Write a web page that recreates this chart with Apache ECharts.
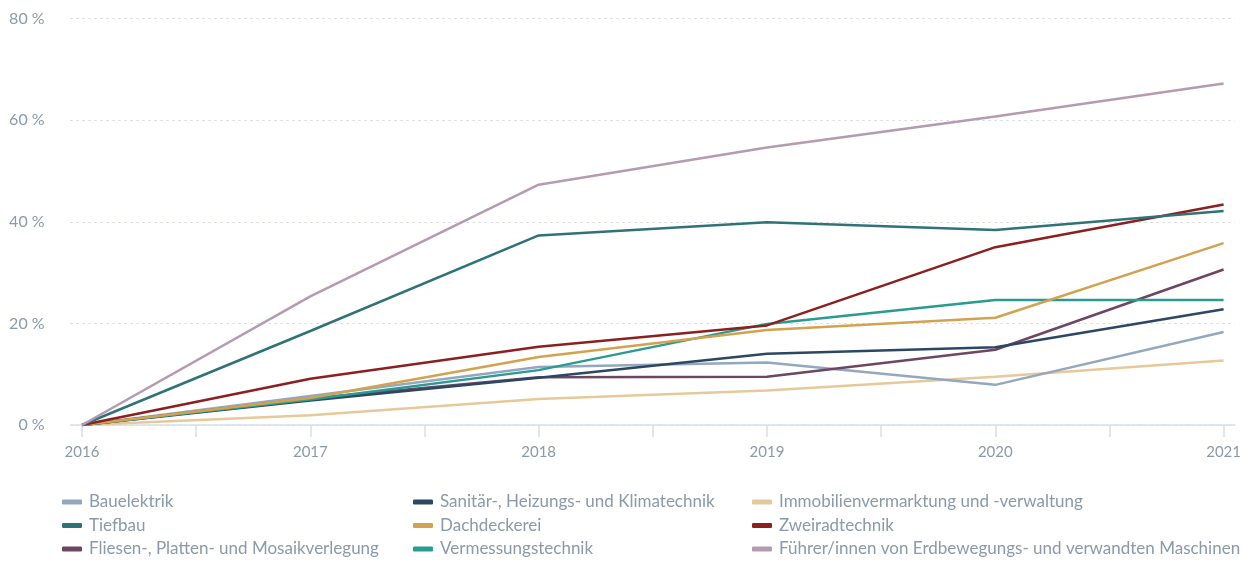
<!DOCTYPE html>
<html>
    <head>
        <title>Entwicklung</title>
        <meta charset="UTF-8">
        <script type="text/javascript" src="https://cdn.jsdelivr.net/npm/echarts@6/dist/echarts.min.js"></script>
        <style>
            html, body { margin: 0; padding: 0; background: #fff; }
            #container { width: 1244px; height: 561px; }
        </style>
    </head>
    <body>
        <div id="container"></div>
        <script type="text/javascript">
            var years = [2016, 2017, 2018, 2019, 2020, 2021];
            var halfTicks = [2016, 2016.5, 2017, 2017.5, 2018, 2018.5, 2019, 2019.5, 2020, 2020.5, 2021];
            var yTicks = [0, 20, 40, 60, 80];

            var bauelektrik = [0, 5.7, 11.4, 12.3, 7.9, 18.3];
            var tiefbau = [0, 18.5, 37.3, 39.9, 38.4, 42.1];
            var fliesen = [0, 5.2, 9.4, 9.5, 14.8, 30.6];
            var sanitaer = [0, 4.8, 9.3, 14.0, 15.3, 22.8];
            var dachdeckerei = [0, 5.3, 13.4, 18.7, 21.1, 35.8];
            var vermessung = [0, 5.0, 10.8, 19.9, 24.6, 24.6];
            var immobilien = [0, 1.9, 5.1, 6.8, 9.5, 12.7];
            var zweirad = [0, 9.1, 15.4, 19.6, 35.0, 43.4];
            var fuehrer = [0, 25.3, 47.3, 54.6, 60.7, 67.2];

            var names = {
                bau: 'Bauelektrik',
                tief: 'Tiefbau',
                flie: 'Fliesen-, Platten- und Mosaikverlegung',
                sani: 'Sanitär-, Heizungs- und Klimatechnik',
                dach: 'Dachdeckerei',
                verm: 'Vermessungstechnik',
                immo: 'Immobilienvermarktung und -verwaltung',
                zwei: 'Zweiradtechnik',
                fuehr: 'Führer/innen von Erdbewegungs- und verwandten Maschinen'
            };

            var textColor = '#8c99a8';
            var font = 'Lato';

            function pairs(vals) {
                var out = [];
                for (var i = 0; i < years.length; i++) {
                    out.push([years[i], vals[i]]);
                }
                return out;
            }

            function line(name, vals, color) {
                return {
                    name: name,
                    type: 'line',
                    data: pairs(vals),
                    showSymbol: false,
                    symbol: 'none',
                    color: color,
                    lineStyle: { width: 2.5, color: color },
                    animation: false
                };
            }

            function legend(left, items) {
                return {
                    orient: 'vertical',
                    left: left,
                    top: 493,
                    height: 80,
                    padding: 0,
                    itemGap: 5.5,
                    itemWidth: 20,
                    itemHeight: 5,
                    icon: 'roundRect',
                    data: items,
                    textStyle: { color: textColor, fontSize: 17, fontFamily: font, lineHeight: 18, padding: [0, 0, 0, 2] }
                };
            }

            var myChart = echarts.init(document.getElementById('container'));
            var option = {
                backgroundColor: '#fff',
                animation: false,
                grid: { left: 70.6, right: 8.6, top: 18.5, bottom: 136 },
                legend: [
                    legend(62, [names.bau, names.tief, names.flie]),
                    legend(413, [names.sani, names.dach, names.verm]),
                    legend(752, [names.immo, names.zwei, names.fuehr])
                ],
                xAxis: {
                    type: 'value',
                    min: 2015.95,
                    max: 2021.05,
                    splitLine: { show: false },
                    axisLine: { show: true, lineStyle: { color: '#d6dee9', width: 1.5 } },
                    axisTick: { show: true, customValues: halfTicks, length: 12, lineStyle: { color: '#d6dee9', width: 1.5 } },
                    axisLabel: {
                        customValues: years,
                        color: textColor,
                        fontSize: 15,
                        fontFamily: font,
                        margin: 20,
                        formatter: function (v) { return String(v); }
                    }
                },
                yAxis: {
                    type: 'value',
                    min: 0,
                    max: 80,
                    interval: 20,
                    axisLine: { show: false },
                    axisTick: { show: false },
                    splitLine: { lineStyle: { color: '#cfd6df', type: [2, 4], width: 1.2 } },
                    axisLabel: {
                        customValues: yTicks,
                        color: textColor,
                        fontSize: 16,
                        fontFamily: font,
                        margin: 26,
                        formatter: '{value} %'
                    }
                },
                series: [
                    line(names.immo, immobilien, '#e6c99b'),
                    line(names.bau, bauelektrik, '#93a8bf'),
                    line(names.flie, fliesen, '#6e4662'),
                    line(names.sani, sanitaer, '#2c4764'),
                    line(names.verm, vermessung, '#2a9b90'),
                    line(names.dach, dachdeckerei, '#d3a24f'),
                    line(names.zwei, zweirad, '#8c1f1f'),
                    line(names.tief, tiefbau, '#2f7378'),
                    line(names.fuehr, fuehrer, '#b59bb0')
                ]
            };
            myChart.setOption(option);
        </script>
    </body>
</html>
